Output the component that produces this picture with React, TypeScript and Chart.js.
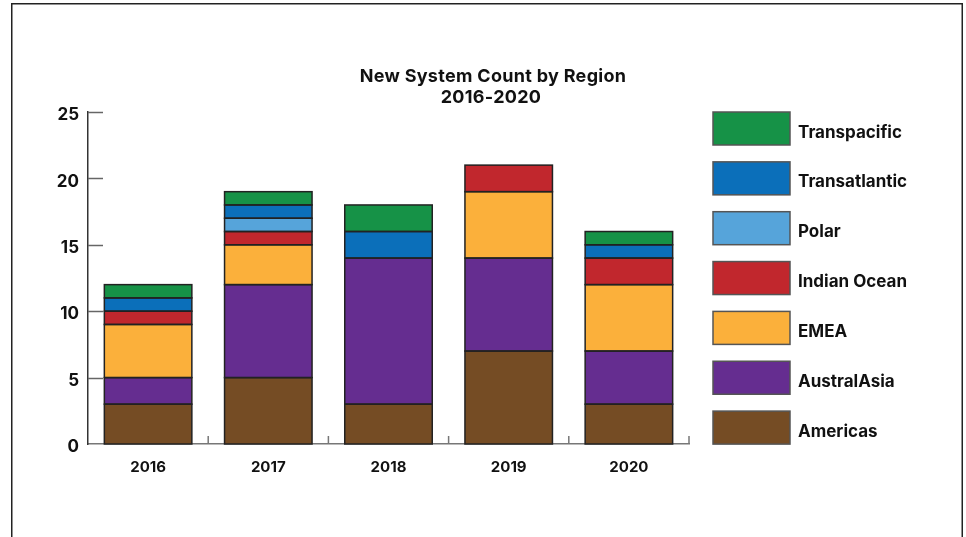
import React, { useEffect, useRef } from "react";
import { Chart, registerables } from "chart.js";

Chart.register(...registerables);

const years = ["2016", "2017", "2018", "2019", "2020"];
const americas = [3, 5, 3, 7, 3];
const australAsia = [2, 7, 11, 7, 4];
const emea = [4, 3, 0, 5, 5];
const indianOcean = [1, 1, 0, 2, 2];
const polar = [0, 1, 0, 0, 0];
const transatlantic = [1, 1, 2, 0, 1];
const transpacific = [1, 1, 2, 0, 1];
const yMax = 25;
const yStep = 5;
const titleLines = ["New System Count by Region", "2016-2020"];

const FONT = "Inter, 'Open Sans', sans-serif";

const decorPlugin = {
  id: "decor",
  beforeDraw(chart: any) {
    const ctx = chart.ctx;
    ctx.save();
    ctx.strokeStyle = "#222";
    ctx.lineWidth = 1.5;
    ctx.beginPath();
    ctx.moveTo(11.75, 600);
    ctx.lineTo(11.75, 3.75);
    ctx.lineTo(962.25, 3.75);
    ctx.lineTo(962.25, 600);
    ctx.stroke();
    ctx.restore();
  },
  afterDatasetsDraw(chart: any) {
    const ctx = chart.ctx;
    ctx.save();
    ctx.strokeStyle = "#222";
    ctx.lineWidth = 1.5;
    chart.data.datasets.forEach((_d: any, di: number) => {
      const meta = chart.getDatasetMeta(di);
      meta.data.forEach((el: any) => {
        const h = Math.abs(el.base - el.y);
        if (h < 0.5) return;
        const left = el.x - el.width / 2;
        const top = Math.min(el.y, el.base);
        ctx.strokeRect(left, top, el.width, h);
      });
    });
    ctx.restore();
  },
  afterDraw(chart: any) {
    const ctx = chart.ctx;
    const ca = chart.chartArea;
    const ys = chart.scales.y;
    const xs = chart.scales.x;
    ctx.save();
    // y ticks pointing inward
    ctx.strokeStyle = "#666";
    ctx.lineWidth = 1.5;
    ys.ticks.forEach((t: any) => {
      if (t.value === 0) return;
      const y = Math.round(ys.getPixelForValue(t.value)) + 0.5;
      ctx.beginPath();
      ctx.moveTo(ca.left, y);
      ctx.lineTo(ca.left + 15, y);
      ctx.stroke();
    });
    // x category boundary ticks pointing up
    ctx.strokeStyle = "#777";
    const n = years.length;
    for (let i = 1; i <= n; i++) {
      const x =
        i < n
          ? (xs.getPixelForValue(i - 1) + xs.getPixelForValue(i)) / 2
          : ca.right;
      ctx.beginPath();
      ctx.moveTo(x, ca.bottom);
      ctx.lineTo(x, ca.bottom - 8);
      ctx.stroke();
    }
    // title
    ctx.fillStyle = "#111";
    ctx.textAlign = "center";
    ctx.textBaseline = "middle";
    ctx.font = `700 18px ${FONT}`;
    (ctx as any).letterSpacing = "0.3px";
    ctx.fillText(titleLines[0], 493, 77);
    ctx.fillText(titleLines[1], 491, 98);
    (ctx as any).letterSpacing = "0px";
    // legend (reverse order)
    const ds = chart.data.datasets.slice().reverse();
    ds.forEach((d: any, i: number) => {
      const top = 112 + i * 49.85;
      ctx.fillStyle = d.backgroundColor;
      ctx.fillRect(713, top, 77, 33);
      ctx.strokeStyle = "#555";
      ctx.lineWidth = 1.5;
      ctx.strokeRect(713, top, 77, 33);
      ctx.fillStyle = "#111";
      ctx.textAlign = "left";
      ctx.textBaseline = "middle";
      ctx.font = `700 17px ${FONT}`;
      ctx.fillText(d.label, 798, top + 20.5);
    });
    ctx.restore();
  },
};

export default function App() {
  const ref = useRef<HTMLCanvasElement | null>(null);
  useEffect(() => {
    if (!ref.current) return;
    const mk = (label: string, data: number[], color: string) => ({
      label,
      data,
      backgroundColor: color,
      borderWidth: 0,
      barPercentage: 0.728,
      categoryPercentage: 1,
    });
    const chart = new Chart(ref.current, {
      type: "bar",
      data: {
        labels: years,
        datasets: [
          mk("Americas", americas, "#754c24"),
          mk("AustralAsia", australAsia, "#652d90"),
          mk("EMEA", emea, "#fbb03b"),
          mk("Indian Ocean", indianOcean, "#c1272d"),
          mk("Polar", polar, "#56a4da"),
          mk("Transatlantic", transatlantic, "#0b6fba"),
          mk("Transpacific", transpacific, "#169247"),
        ],
      },
      options: {
        responsive: false,
        animation: false,
        layout: { padding: { top: 112, right: 966 - 689, bottom: 0, left: 0 } },
        plugins: {
          legend: { display: false },
          title: { display: false },
          tooltip: { enabled: false },
        },
        scales: {
          x: {
            stacked: true,
            grid: { display: false, drawTicks: false },
            border: { display: true, color: "#777", width: 1.5 },
            ticks: {
              padding: 14,
              color: "#111",
              font: { family: FONT, size: 15, weight: "700" },
            },
            afterFit: (s: any) => {
              s.height = 537 - 444;
            },
          },
          y: {
            stacked: true,
            min: 0,
            max: yMax,
            grid: { display: false, drawTicks: false },
            border: { display: true, color: "#333", width: 1.5 },
            ticks: {
              stepSize: yStep,
              padding: 9,
              labelOffset: 3,
              color: "#111",
              font: { family: FONT, size: 17, weight: "700" },
            },
            afterFit: (s: any) => {
              s.width = 88;
            },
          },
        },
      },
      plugins: [decorPlugin],
    });
    return () => chart.destroy();
  }, []);
  return (
    <div style={{ position: "fixed", left: 0, top: 0, width: 966, height: 537, background: "#fff" }}>
      <canvas ref={ref} width={966} height={537} style={{ display: "block" }} />
    </div>
  );
}
